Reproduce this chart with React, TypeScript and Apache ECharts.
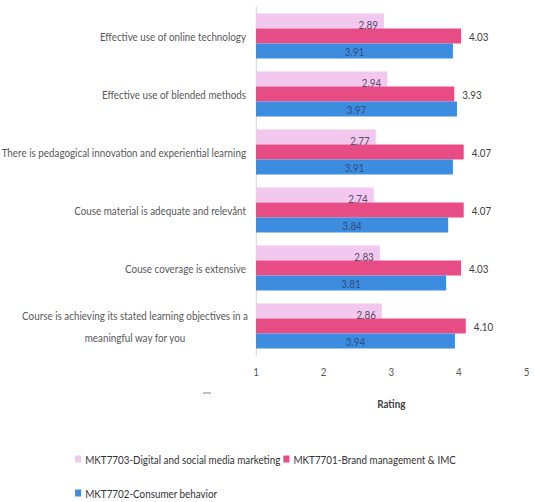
import React, { useEffect, useRef } from "react";
import * as echarts from "echarts";

const categories = [
  "Effective use of online technology",
  "Effective use of blended methods",
  "There is pedagogical innovation and experiential learning",
  "Couse material is adequate and relevånt",
  "Couse coverage is extensive",
  "Course is achieving its stated learning objectives in a\nmeaningful way for you",
];
const seriesNames = [
  "MKT7703-Digital and social media marketing",
  "MKT7701-Brand management & IMC",
  "MKT7702-Consumer behavior",
];
const digitalValues = [2.89, 2.94, 2.77, 2.74, 2.83, 2.86];
const brandValues = [4.03, 3.93, 4.07, 4.07, 4.03, 4.1];
const consumerValues = [3.91, 3.97, 3.91, 3.84, 3.81, 3.94];
const xTicks = [1, 2, 3, 4, 5];

const FONT = "Lato, 'Liberation Sans', sans-serif";
const colors = ["#f2c8ee", "#e84c84", "#3c8ce0"];
// horizontal squeeze to mimic the condensed Calibri look of the reference
const S = 0.82;
const W = 535;
const H = 502;
const sx = (x: number) => x / S;

export default function App() {
  const ref = useRef<HTMLDivElement>(null);
  useEffect(() => {
    if (!ref.current) return;
    const chart = echarts.init(ref.current, null, { renderer: "svg" });
    const mkSeries = (i: number, data: number[], label: any) => ({
      name: seriesNames[i],
      type: "bar",
      data,
      barWidth: 15,
      barGap: "0%",
      itemStyle: { color: colors[i] },
      label: { show: true, fontFamily: FONT, fontSize: 12, formatter: (p: any) => p.value.toFixed(2), ...label },
    });
    chart.setOption({
      animation: false,
      textStyle: { fontFamily: FONT },
      grid: { left: sx(256), right: sx(8), top: 7, bottom: 147, containLabel: false, outerBoundsMode: "none" },
      xAxis: {
        type: "value",
        min: xTicks[0],
        max: xTicks[xTicks.length - 1],
        interval: 1,
        splitLine: { show: false },
        axisLine: { show: false },
        axisTick: { show: false },
        axisLabel: { color: "#595959", fontSize: 12, margin: 10, fontFamily: FONT },
        name: "Rating",
        nameLocation: "middle",
        nameGap: 42,
        nameTextStyle: { color: "#404040", fontSize: 12, fontFamily: FONT, fontWeight: "bold" },
      },
      yAxis: {
        type: "category",
        inverse: true,
        data: categories,
        axisLine: { show: true, lineStyle: { color: "#d0d0d0" } },
        axisTick: { show: false },
        axisLabel: {
          color: "#595959",
          fontSize: 12,
          margin: sx(10),
          fontFamily: FONT,
          formatter: (v: string) =>
            v.includes("\n") ? v.split("\n").map((l) => `{c|${l}}`).join("\n") : v,
          rich: { c: { width: sx(222), align: "center", color: "#595959", fontSize: 12, fontFamily: FONT, lineHeight: 22 } },
        },
      },
      legend: [
        {
          data: [seriesNames[0], seriesNames[1]],
          left: sx(71),
          top: 448,
          itemWidth: sx(6),
          itemHeight: 7,
          itemGap: sx(3),
          icon: "rect",
          textStyle: { color: "#333333", fontSize: 12, fontFamily: FONT },
        },
        {
          data: [seriesNames[2]],
          left: sx(71),
          top: 482,
          itemWidth: sx(6),
          itemHeight: 7,
          icon: "rect",
          textStyle: { color: "#333333", fontSize: 12, fontFamily: FONT },
        },
      ],
      graphic: [
        { type: "line", shape: { x1: sx(203), y1: 393, x2: sx(211), y2: 393 }, style: { stroke: "#777", lineWidth: 1 } },
      ],
      series: [
        mkSeries(0, digitalValues, { position: "insideRight", distance: sx(6), offset: [0, 3], color: "#5a4868" }),
        mkSeries(1, brandValues, { position: "right", distance: sx(8), color: "#404040" }),
        mkSeries(2, consumerValues, { position: "inside", color: "#2e4e80" }),
      ],
    });
    return () => chart.dispose();
  }, []);
  return (
    <div style={{ position: "absolute", left: 0, top: 0, width: W, height: H, overflow: "hidden", background: "#fff" }}>
      <div
        ref={ref}
        style={{ width: W / S, height: H, transform: `scaleX(${S})`, transformOrigin: "0 0" }}
      />
    </div>
  );
}
